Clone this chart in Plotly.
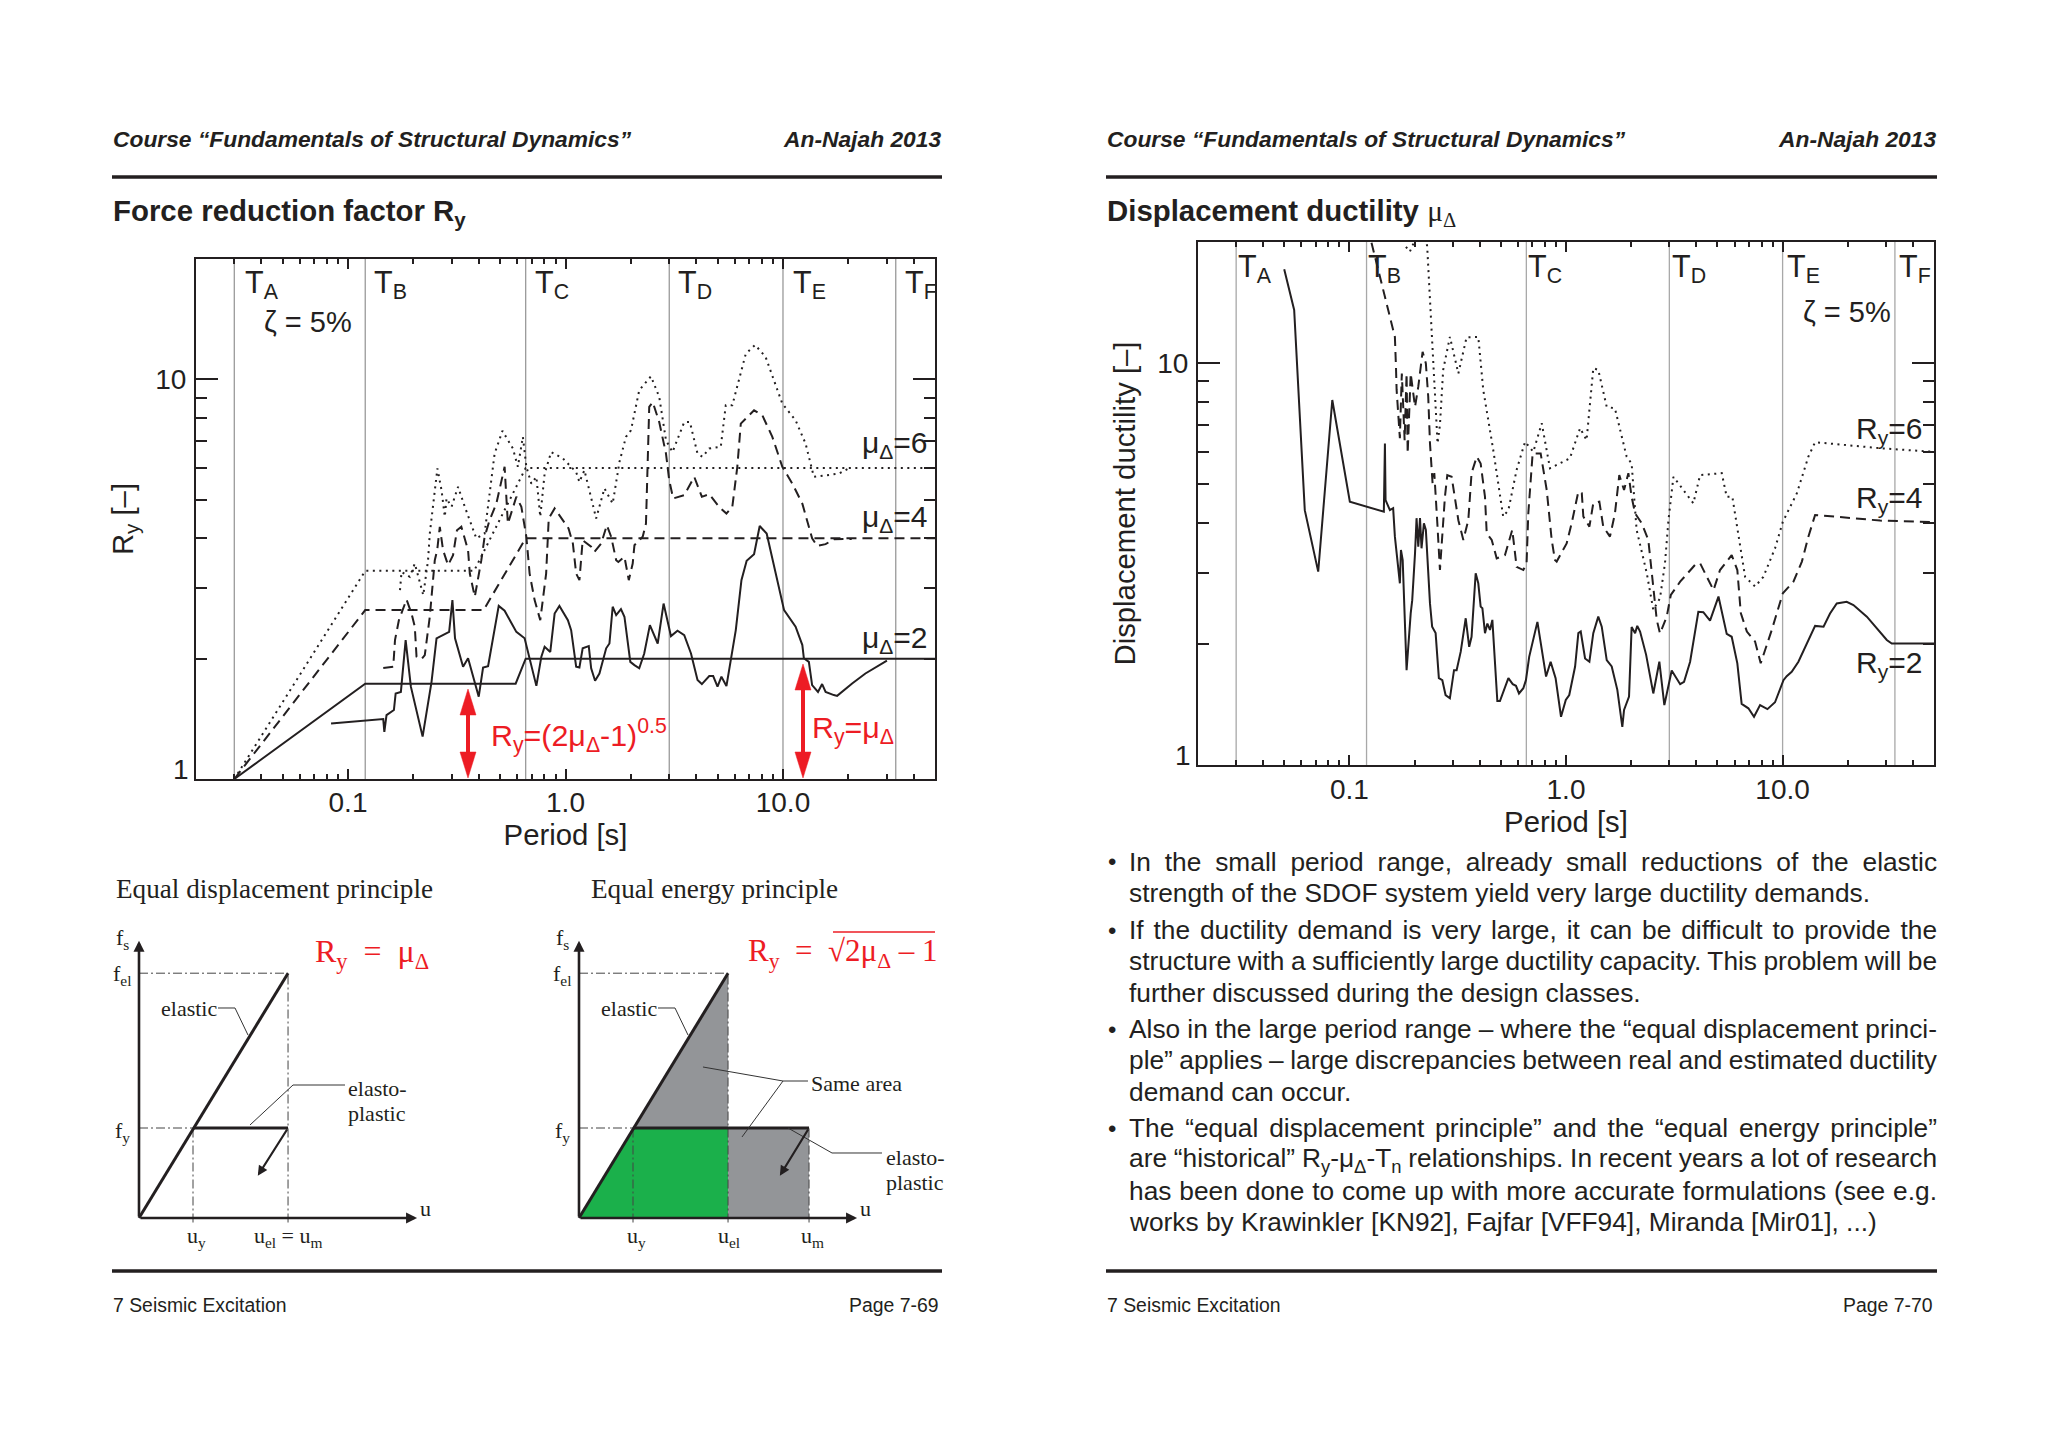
import json
import plotly.graph_objects as go

W, H = 2048, 1448
INK = "#231f20"
RED = "#ed1c24"
SANS = "Liberation Sans"
SERIF = "Liberation Serif"

# ---------- data: spectra, as (log10 period, log10 ordinate) ----------
FORCE_MU2 = [(-1.078,.139),(-.838,.150),(-.833,.118),(-.823,.160),(-.789,.1725),(-.781,.214),(-.757,.218),(-.735,.3475),(-.711,.231),(-.657,.106),(-.616,.243),(-.593,.352),(-.535,.368),(-.520,.4475),(-.508,.352),(-.471,.281),(-.448,.302),(-.399,.206),(-.379,.279),(-.356,.2825),(-.307,.433),(-.280,.421),(-.226,.368),(-.188,.352),(-.134,.233),(-.111,.306),(-.096,.331),(-.070,.318),(-.050,.414),(-.028,.433),(.011,.3975),(.026,.3725),(.049,.281),(.064,.279),(.079,.327),(.107,.3325),(.118,.277),(.136,.246),(.156,.264),(.187,.327),(.202,.339),(.217,.431),(.233,.41),(.255,.425),(.271,.406),(.298,.293),(.317,.285),(.339,.277),(.362,.314),(.388,.385),(.424,.339),(.451,.439),(.485,.3575),(.515,.371),(.546,.36),(.577,.314),(.607,.2475),(.627,.2375),(.661,.2575),(.679,.2575),(.699,.231),(.717,.256),(.740,.2325),(.783,.3725),(.809,.4975),(.833,.546),(.867,.5625),(.893,.633),(.925,.614),(.959,.535),(1.005,.4225),(1.058,.381),(1.089,.335),(1.096,.302),(1.119,.293),(1.134,.235),(1.161,.218),(1.180,.2375),(1.196,.218),(1.234,.21),(1.249,.208),(1.318,.239),(1.379,.264),(1.478,.296)]
FORCE_MU4 = [(-.838,.278),(-.792,.281),(-.784,.3475),(-.766,.3975),(-.731,.449),(-.723,.435),(-.708,.414),(-.693,.381),(-.685,.306),(-.662,.30),(-.647,.31),(-.624,.406),(-.601,.5475),(-.590,.5725),(-.578,.631),(-.563,.5725),(-.540,.535),(-.517,.56),(-.499,.6225),(-.479,.631),(-.448,.5725),(-.440,.514),(-.417,.456),(-.387,.5475),(-.372,.606),(-.349,.6475),(-.318,.689),(-.280,.781),(-.265,.639),(-.226,.706),(-.203,.681),(-.180,.606),(-.165,.514),(-.142,.4475),(-.116,.3975),(-.089,.514),(-.077,.652),(-.050,.677),(-.028,.66),(.014,.627),(.034,.589),(.049,.514),(.064,.4975),(.079,.5975),(.118,.581),(.133,.568),(.164,.589),(.190,.635),(.210,.606),(.233,.5475),(.243,.543),(.271,.556),(.291,.4975),(.309,.539),(.317,.585),(.355,.606),(.370,.639),(.385,.931),(.401,.943),(.431,.893),(.462,.814),(.477,.7475),(.495,.702),(.546,.71),(.592,.756),(.627,.706),(.661,.7125),(.706,.681),(.740,.664),(.767,.681),(.790,.781),(.806,.889),(.867,.9225),(.905,.91),(.951,.856),(.997,.781),(1.043,.739),(1.089,.689),(1.134,.602),(1.157,.583),(1.196,.5875),(1.234,.60),(1.316,.6007)]
FORCE_MU6 = [(-.761,.4725),(-.754,.518),(-.716,.506),(-.693,.539),(-.654,.46),(-.632,.5475),(-.624,.614),(-.609,.689),(-.589,.777),(-.570,.7225),(-.555,.656),(-.547,.702),(-.524,.681),(-.494,.731),(-.463,.681),(-.410,.602),(-.372,.614),(-.326,.814),(-.290,.871),(-.242,.827),(-.219,.781),(-.196,.856),(-.180,.781),(-.157,.739),(-.134,.756),(-.116,.656),(-.096,.764),(-.066,.818),(-.012,.802),(.049,.768),(.064,.743),(.087,.7725),(.141,.652),(.179,.727),(.217,.689),(.248,.793),(.278,.856),(.301,.8725),(.339,.9725),(.393,1.0075),(.431,.956),(.462,.8475),(.492,.818),(.546,.893),(.572,.893),(.607,.814),(.630,.806),(.661,.827),(.714,.831),(.737,.935),(.767,.935),(.829,1.064),(.872,1.086),(.920,1.056),(.997,.939),(1.058,.8975),(1.104,.839),(1.142,.756),(1.257,.764),(1.303,.777)]

DUCT_R2 = [(-1.301,1.233),(-1.255,1.132),(-1.206,.634),(-1.144,.481),(-1.079,.908),(-.998,.655),(-.841,.630),(-.836,.800),(-.833,.659),(-.813,.634),(-.798,.639),(-.790,.568),(-.767,.452),(-.762,.535),(-.754,.510),(-.736,.236),(-.717,.377),(-.710,.410),(-.697,.527),(-.690,.614),(-.682,.543),(-.674,.614),(-.667,.539),(-.656,.601),(-.647,.585),(-.628,.402),(-.618,.344),(-.602,.328),(-.587,.216),(-.571,.211),(-.556,.174),(-.536,.166),(-.517,.236),(-.505,.236),(-.486,.282),(-.463,.365),(-.447,.294),(-.436,.319),(-.417,.477),(-.405,.452),(-.394,.394),(-.386,.390),(-.374,.328),(-.363,.352),(-.351,.336),(-.340,.361),(-.317,.159),(-.305,.159),(-.266,.216),(-.246,.201),(-.231,.197),(-.217,.178),(-.197,.191),(-.185,.211),(-.170,.269),(-.132,.356),(-.092,.220),(-.071,.257),(-.048,.216),(-.023,.120),(-.001,.162),(.015,.174),(.042,.245),(.057,.328),(.068,.332),(.088,.265),(.108,.257),(.126,.328),(.149,.369),(.165,.344),(.188,.261),(.211,.245),(.237,.187),(.260,.095),(.268,.137),(.291,.170),(.303,.343),(.319,.328),(.329,.346),(.342,.332),(.370,.274),(.403,.178),(.431,.257),(.454,.149),(.488,.235),(.527,.201),(.545,.207),(.573,.257),(.611,.381),(.634,.380),(.665,.359),(.704,.419),(.742,.326),(.765,.319),(.791,.253),(.811,.152),(.842,.141),(.868,.120),(.896,.149),(.930,.139),(.965,.156),(1.004,.211),(1.019,.221),(1.042,.232),(1.073,.257),(1.119,.311),(1.150,.346),(1.189,.344),(1.219,.377),(1.250,.402),(1.296,.406),(1.327,.398),(1.389,.369),(1.481,.311),(1.504,.302),(1.699,.302)]
DUCT_R4 = [(-.898,1.299),(-.867,1.231),(-.836,1.165),(-.813,1.115),(-.790,1.065),(-.785,.991),(-.782,.933),(-.767,.813),(-.758,.974),(-.745,.808),(-.736,.974),(-.731,.775),(-.717,.974),(-.697,.891),(-.682,.941),(-.662,1.028),(-.647,.999),(-.636,.916),(-.628,.800),(-.616,.701),(-.608,.726),(-.594,.601),(-.582,.485),(-.559,.667),(-.548,.721),(-.528,.717),(-.497,.609),(-.474,.560),(-.451,.609),(-.436,.726),(-.412,.767),(-.394,.750),(-.374,.667),(-.366,.576),(-.343,.560),(-.320,.514),(-.282,.522),(-.248,.585),(-.228,.493),(-.197,.485),(-.182,.502),(-.174,.626),(-.154,.775),(-.117,.775),(-.089,.684),(-.066,.560),(-.051,.510),(-.043,.506),(.003,.551),(.026,.601),(.046,.655),(.057,.680),(.073,.676),(.080,.618),(.108,.593),(.126,.651),(.154,.655),(.172,.593),(.203,.568),(.226,.626),(.246,.721),(.268,.684),(.288,.726),(.303,.667),(.319,.626),(.350,.601),(.380,.560),(.403,.444),(.419,.361),(.434,.327),(.465,.369),(.484,.423),(.527,.456),(.596,.498),(.619,.502),(.681,.435),(.711,.485),(.765,.522),(.791,.485),(.807,.378),(.835,.332),(.873,.307),(.899,.253),(.950,.336),(1.001,.427),(1.050,.456),(1.089,.506),(1.119,.568),(1.150,.622),(1.450,.608),(1.701,.604)]
DUCT_R6 = [(-.739,1.289),(-.721,1.277),(-.697,1.306),(-.667,1.356),(-.641,1.291),(-.620,1.082),(-.605,.933),(-.593,.800),(-.582,.846),(-.567,.983),(-.536,1.065),(-.497,.974),(-.459,1.064),(-.405,1.065),(-.382,.933),(-.336,.784),(-.290,.618),(-.266,.634),(-.228,.734),(-.189,.804),(-.151,.779),(-.112,.850),(-.074,.738),(.018,.763),(.065,.838),(.095,.808),(.126,.987),(.149,.983),(.188,.891),(.226,.887),(.280,.767),(.303,.750),(.326,.585),(.373,.477),(.403,.386),(.434,.415),(.457,.502),(.473,.609),(.496,.717),(.588,.651),(.619,.721),(.719,.726),(.742,.667),(.768,.667),(.807,.535),(.827,.468),(.873,.444),(.911,.468),(.965,.539),(1.001,.605),(1.066,.676),(1.119,.767),(1.150,.803),(1.450,.788),(1.701,.779)]

# ---------- data: estimated design spectra (period s, Ry) and control periods ----------
DESIGN_MU2_T = [0.03, 0.12, 0.59, 0.656, 50]
DESIGN_MU2_R = [1, 1.732, 1.732, 2, 2]
DESIGN_MU4_T = [0.03, 0.12, 0.42, 0.656, 50]
DESIGN_MU4_R = [1, 2.646, 2.646, 4, 4]
DESIGN_MU6_T = [0.03, 0.12, 0.38, 0.656, 50]
DESIGN_MU6_R = [1, 3.317, 3.317, 6, 6]
CONTROL_T = [0.03, 0.12, 0.656, 3, 10, 33]

X_MAJOR = [0.1, 1, 10]
X_MAJOR_TEXT = ["0.1", "1.0", "10.0"]
X_MINOR = [0.02,0.03,0.04,0.05,0.06,0.07,0.08,0.09,0.2,0.3,0.4,0.5,0.6,0.7,0.8,0.9,2,3,4,5,6,7,8,9,20,30,40]
Y_MAJOR = [1, 10]
Y_MAJOR_TEXT = ["", "10"]
Y_MINOR = [2, 3, 4, 5, 6, 7, 8, 9]

# ---------- data: force-displacement sketches (u in units of uy, f in units of fy) ----------
U_Y, U_EL, U_M = 1, 2.76, 4.26
F_Y, F_EL = 1, 2.72
U_END, F_END = 5.15, 3.08
UNLOAD_1 = (2.2, 0.47)
UNLOAD_2 = (3.72, 0.47)

BULLET_LINES = [
    (862, True, True, "In the small period range, already small reductions of the elastic"),
    (893, False, False, "strength of the SDOF system yield very large ductility demands."),
    (930, True, True, "If the ductility demand is very large, it can be difficult to provide the"),
    (961, False, True, "structure with a sufficiently large ductility capacity. This problem will be"),
    (993, False, False, "further discussed during the design classes."),
    (1029, True, True, "Also in the large period range – where the “equal displacement princi-"),
    (1060, False, True, "ple” applies – large discrepancies between real and estimated ductility"),
    (1092, False, False, "demand can occur."),
    (1128, True, True, "The “equal displacement principle” and the “equal energy principle”"),
    (1160, False, True, "are “historical” R<sub>y</sub>-μ<sub>Δ</sub>-T<sub>n</sub> relationships. In recent years a lot of research"),
    (1191, False, True, "has been done to come up with more accurate formulations (see e.g."),
    (1222, False, False, "works by Krawinkler [KN92], Fajfar [VFF94], Miranda [Mir01], ...)"),
]

# ---------- helpers ----------
def xfrac(px): return px / W
def yfrac(py): return 1 - py / H

annotations, shapes, traces = [], [], []

def note(text, px, py, size=27, color=INK, family=SANS, anchor="left", angle=0):
    annotations.append(dict(text=text, x=xfrac(px), y=yfrac(py), xref="paper", yref="paper",
                            xanchor=anchor, yanchor="middle", align=anchor, showarrow=False,
                            borderpad=0, textangle=angle,
                            font=dict(size=size, color=color, family=family)))

def rule(x0, x1, y, width=3.5):
    shapes.append(dict(type="line", xref="paper", yref="paper", x0=xfrac(x0), x1=xfrac(x1),
                       y0=yfrac(y), y1=yfrac(y), line=dict(color=INK, width=width)))

def leader(points):
    path = "M " + " L ".join(f"{xfrac(x):.5f},{yfrac(y):.5f}" for x, y in points)
    shapes.append(dict(type="path", xref="paper", yref="paper", path=path,
                       line=dict(color="#333333", width=1)))

def red_arrow(px, top, bottom):
    shapes.append(dict(type="line", xref="paper", yref="paper", x0=xfrac(px), x1=xfrac(px),
                       y0=yfrac(top + 20), y1=yfrac(bottom - 20), line=dict(color=RED, width=4)))
    for tip, base in ((top, top + 26), (bottom, bottom - 26)):
        path = (f"M {xfrac(px):.5f},{yfrac(tip):.5f} L {xfrac(px - 8):.5f},{yfrac(base):.5f} "
                f"L {xfrac(px + 8):.5f},{yfrac(base):.5f} Z")
        shapes.append(dict(type="path", xref="paper", yref="paper", path=path,
                           fillcolor=RED, line=dict(color=RED, width=0.5)))

def spectrum(pairs, xa, ya, dash, width=2.0):
    traces.append(go.Scatter(x=[10 ** p[0] for p in pairs], y=[10 ** p[1] for p in pairs],
                             xaxis=xa, yaxis=ya, mode="lines", hoverinfo="skip",
                             line=dict(color=INK, width=width, dash=dash)))

DASH = "10px,6px"
DOT = "2px,4.5px"

def log_axis(dom_x, anchor, tick_off, standoff):
    return dict(type="log", range=[-1.699, 1.699], domain=[xfrac(dom_x[0]), xfrac(dom_x[1])], anchor=anchor,
                showline=True, linewidth=2, linecolor=INK, mirror="ticks", showgrid=False, zeroline=False,
                ticks="inside", ticklen=10, tickwidth=1.5, tickcolor=INK, tickmode="array",
                tickvals=X_MAJOR, ticktext=X_MAJOR_TEXT, ticklabelstandoff=tick_off,
                tickfont=dict(size=28, color=INK, family=SANS),
                minor=dict(ticks="inside", ticklen=5, tickwidth=1.5, tickcolor=INK,
                           tickmode="array", tickvals=X_MINOR, showgrid=False),
                title=dict(text="Period [s]", standoff=standoff, font=dict(size=29.3, color=INK, family=SANS)))

def val_axis(dom_y, anchor, title, standoff):
    return dict(type="log", range=[0, 1.301], domain=[yfrac(dom_y[1]), yfrac(dom_y[0])], anchor=anchor,
                showline=True, linewidth=2, linecolor=INK, mirror="ticks", showgrid=False, zeroline=False,
                ticks="inside", ticklen=22, tickwidth=1.5, tickcolor=INK, tickmode="array",
                tickvals=Y_MAJOR, ticktext=Y_MAJOR_TEXT, ticklabelstandoff=2,
                tickfont=dict(size=28, color=INK, family=SANS),
                minor=dict(ticks="inside", ticklen=11, tickwidth=1.5, tickcolor=INK,
                           tickmode="array", tickvals=Y_MINOR, showgrid=False),
                title=dict(text=title, standoff=standoff, font=dict(size=29.3, color=INK, family=SANS)))

layout_axes = {
    "xaxis": log_axis((196, 935), "y", -3, 8),
    "yaxis": val_axis((259, 779), "x", "R<sub>y</sub> [–]", 13),
    "xaxis2": log_axis((1198, 1934), "y2", -2, 7),
    "yaxis2": val_axis((242, 765), "x2", "Displacement ductility [–]", 13),
}

# ---------- spectra ----------
for xa, ya, vcol in (("x", "y", "#9a9a9a"), ("x2", "y2", "#a8a8a8")):
    for t in CONTROL_T:
        traces.append(go.Scatter(x=[t, t], y=[1, 20], xaxis=xa, yaxis=ya, mode="lines", hoverinfo="skip",
                                 line=dict(color=vcol, width=1.3)))

traces.append(go.Scatter(x=DESIGN_MU2_T, y=DESIGN_MU2_R, xaxis="x", yaxis="y", mode="lines", hoverinfo="skip",
                         line=dict(color=INK, width=2)))
traces.append(go.Scatter(x=DESIGN_MU4_T, y=DESIGN_MU4_R, xaxis="x", yaxis="y", mode="lines", hoverinfo="skip",
                         line=dict(color=INK, width=2, dash=DASH)))
traces.append(go.Scatter(x=DESIGN_MU6_T, y=DESIGN_MU6_R, xaxis="x", yaxis="y", mode="lines", hoverinfo="skip",
                         line=dict(color=INK, width=2, dash=DOT)))
spectrum(FORCE_MU2, "x", "y", "solid")
spectrum(FORCE_MU4, "x", "y", DASH)
spectrum(FORCE_MU6, "x", "y", DOT)
spectrum(DUCT_R2, "x2", "y2", "solid")
spectrum(DUCT_R4, "x2", "y2", DASH)
spectrum(DUCT_R6, "x2", "y2", DOT)

# ---------- sketch axes ----------
UNIT_X, UNIT_Y = 54, 90
ORIGIN_Y = 1218
def sketch_axes(x_name, y_name, ox):
    xn = x_name.replace("axis", "")
    yn = y_name.replace("axis", "")
    layout_axes[x_name] = dict(domain=[xfrac(ox - 0.5 * UNIT_X), xfrac(ox + 5.5 * UNIT_X)], range=[-0.5, 5.5],
                               anchor=yn, visible=False, fixedrange=True)
    layout_axes[y_name] = dict(domain=[yfrac(ORIGIN_Y + 0.25 * UNIT_Y), yfrac(ORIGIN_Y - 3.25 * UNIT_Y)], range=[-0.25, 3.25],
                               anchor=xn, visible=False, fixedrange=True)
    return xn, yn

def line(xa, ya, xs, ys, width=3, dash="solid", color=INK):
    traces.append(go.Scatter(x=xs, y=ys, xaxis=xa, yaxis=ya, mode="lines", hoverinfo="skip",
                             line=dict(color=color, width=width, dash=dash)))

def poly(xa, ya, xs, ys, fill):
    traces.append(go.Scatter(x=xs, y=ys, xaxis=xa, yaxis=ya, mode="none", fill="toself", fillcolor=fill,
                             hoverinfo="skip"))

def arrow(xa, ya, tail, head, width=2.6, size=0.85):
    annotations.append(dict(x=head[0], y=head[1], ax=tail[0], ay=tail[1], xref=xa, yref=ya,
                            axref=xa, ayref=ya, text="", showarrow=True, arrowhead=2, arrowsize=size,
                            arrowwidth=width, arrowcolor=INK))

DD = "9px,3px,2px,3px"
x3, y3 = sketch_axes("xaxis3", "yaxis3", 139)
x4, y4 = sketch_axes("xaxis4", "yaxis4", 579)

poly(x4, y4, [0, U_Y, U_EL, U_EL, 0], [0, F_Y, F_Y, 0, 0], "#1bb04b")
poly(x4, y4, [U_Y, U_EL, U_EL, U_Y], [F_Y, F_EL, F_Y, F_Y], "#939598")
poly(x4, y4, [U_EL, U_M, U_M, U_EL, U_EL], [0, 0, F_Y, F_Y, 0], "#939598")

for xa, ya, u_last, ulabel_ends in ((x3, y3, U_EL, None), (x4, y4, U_M, U_M)):
    line(xa, ya, [0, U_EL], [F_EL, F_EL], 1, DD, "#444444")
    line(xa, ya, [0, U_Y], [F_Y, F_Y], 1, DD, "#444444")
    line(xa, ya, [U_Y, U_Y], [-0.05, F_Y], 1, DD, "#444444")
    line(xa, ya, [U_EL, U_EL], [-0.05, F_EL], 1, DD, "#444444")
    if ulabel_ends:
        line(xa, ya, [U_M, U_M], [-0.05, F_Y], 1, DD, "#444444")
    line(xa, ya, [0, U_EL], [0, F_EL], 3)
    line(xa, ya, [U_Y, u_last], [F_Y, F_Y], 3)

arrow(x3, y3, (0, 0), (0, F_END))
arrow(x3, y3, (0, 0), (U_END, 0))
arrow(x4, y4, (0, 0), (0, F_END))
arrow(x4, y4, (0, 0), (U_END, 0))
arrow(x3, y3, (U_EL, F_Y), UNLOAD_1, 2.2, 0.9)
arrow(x4, y4, (U_M, F_Y), UNLOAD_2, 2.2, 0.9)

leader([(218, 1008), (235, 1008), (248, 1035)])
leader([(345, 1085), (293, 1085), (250, 1125)])
leader([(658, 1008), (675, 1008), (688, 1035)])
leader([(808, 1081), (783, 1081), (703, 1067)])
leader([(783, 1081), (742, 1137)])
leader([(882, 1153), (832, 1153), (788, 1128)])

# ---------- page furniture ----------
for left, right, page in ((112, 942, "Page 7-69"), (1106, 1937, "Page 7-70")):
    note("<b><i>Course “Fundamentals of Structural Dynamics”</i></b>", left, 139, 22.8)
    note("<b><i>An-Najah 2013</i></b>", right, 139, 22.8, anchor="right")
    rule(left, right, 177)
    rule(left, right, 1271)
    note("7 Seismic Excitation", left, 1305, 19.4)
    note(page, right - 3, 1305, 19.4, anchor="right")

note("<b>Force reduction factor R<sub>y</sub></b>", 112, 213, 29.4)
note("<b>Displacement ductility </b><span style=\"font-family:'Liberation Serif'\">μ<sub>Δ</sub></span>", 1106, 213, 29.4)

# left chart labels
for label, x in (("A", 244), ("B", 373), ("C", 534), ("D", 677), ("E", 792), ("F", 904)):
    note(f"T<sub>{label}</sub>", x, 284, 30.5)
note("ζ = 5%", 263, 322, 29)
note("μ<sub>Δ</sub>=6", 861, 445, 30)
note("μ<sub>Δ</sub>=4", 861, 519, 30)
note("μ<sub>Δ</sub>=2", 861, 639, 30)
note("1", 181, 769, 28, anchor="center")
note("R<sub>y</sub>=(2μ<sub>Δ</sub>-1)<sup>0.5</sup>", 490, 735, 30.4, color=RED)
note("R<sub>y</sub>=μ<sub>Δ</sub>", 811, 729, 30.4, color=RED)
red_arrow(468, 689, 778)
red_arrow(803, 664, 778)

# right chart labels
for label, x in (("A", 1237), ("B", 1367), ("C", 1527), ("D", 1671), ("E", 1786), ("F", 1898)):
    note(f"T<sub>{label}</sub>", x, 269, 30.5)
note("ζ = 5%", 1802, 312, 29)
note("R<sub>y</sub>=6", 1855, 431, 30)
note("R<sub>y</sub>=4", 1855, 500, 30)
note("R<sub>y</sub>=2", 1855, 664, 30)
note("1", 1183, 755, 28, anchor="center")

# sketch text
note("Equal displacement principle", 115, 889, 27.2, family=SERIF)
note("Equal energy principle", 590, 889, 27.2, family=SERIF)
for ox in (0, 440):
    note("f<sub>s</sub>", 122 + ox, 939, 22, family=SERIF, anchor="center")
    note("f<sub>el</sub>", 122 + ox, 975, 22, family=SERIF, anchor="center")
    note("f<sub>y</sub>", 122 + ox, 1132, 22, family=SERIF, anchor="center")
    note("elastic", 160 + ox, 1008, 22, family=SERIF)
    note("u", 425 + ox, 1208, 22, family=SERIF, anchor="center")
    note("u<sub>y</sub>", 196 + ox, 1237, 22, family=SERIF, anchor="center")
note("u<sub>el</sub> = u<sub>m</sub>", 288, 1237, 22, family=SERIF, anchor="center")
note("elasto-", 347, 1088, 22, family=SERIF)
note("plastic", 347, 1113, 22, family=SERIF)
note("R<sub>y</sub>  =  μ<sub>Δ</sub>", 314, 953, 32, color=RED, family=SERIF)
note("u<sub>el</sub>", 729, 1237, 22, family=SERIF, anchor="center")
note("u<sub>m</sub>", 812, 1237, 22, family=SERIF, anchor="center")
note("Same area", 810, 1083, 22, family=SERIF)
note("elasto-", 885, 1157, 22, family=SERIF)
note("plastic", 885, 1182, 22, family=SERIF)
note("R<sub>y</sub>  =  √2μ<sub>Δ</sub> – 1", 747, 953, 31, color=RED, family=SERIF)
shapes.append(dict(type="line", xref="paper", yref="paper", x0=xfrac(833), x1=xfrac(935),
                   y0=yfrac(932), y1=yfrac(932), line=dict(color=RED, width=1.5)))

# bullets
JUSTIFY = []
for y, bullet, just, text in BULLET_LINES:
    if bullet:
        note("•", 1107, y, 24)
    note(text, 1128, y, 26.3)
    if just:
        JUSTIFY.append(text.split("<")[0][:24])

fig = go.Figure(traces)
fig.update_layout(width=W, height=H, margin=dict(l=0, r=0, t=0, b=0), paper_bgcolor="white",
                  plot_bgcolor="rgba(0,0,0,0)", showlegend=False, hovermode=False,
                  annotations=annotations, shapes=shapes, **layout_axes)

post = """
document.body.style.margin = '0';
var starts = %s;
document.querySelectorAll('.annotation-text').forEach(function (el) {
  var txt = el.textContent;
  if (!starts.some(function (s) { return txt.indexOf(s) === 0; })) return;
  var gaps = txt.trim().split(/ +/).length - 1;
  var extra = (1936 - 1128 - el.getComputedTextLength()) / gaps;
  el.style.wordSpacing = extra.toFixed(2) + 'px';
});
""" % json.dumps(JUSTIFY)

fig.write_html("out.html", post_script=post, config=dict(displayModeBar=False))
